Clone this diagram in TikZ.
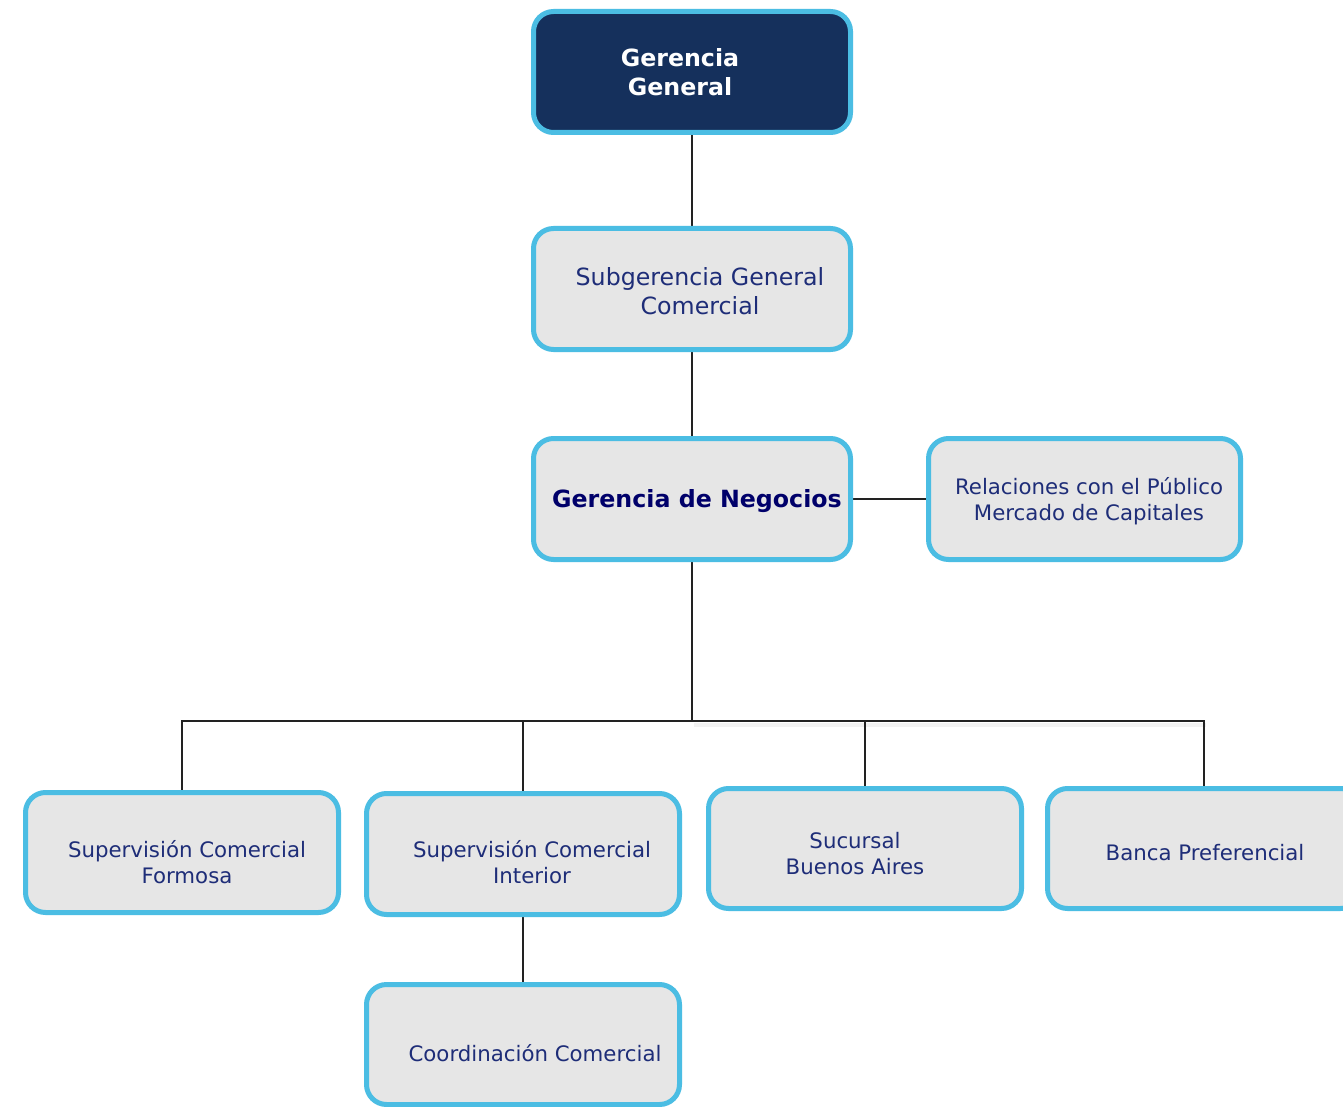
\documentclass[tikz,border=0pt]{standalone}
\usepackage{fontspec}
\setmainfont{DejaVu Sans}
\usetikzlibrary{backgrounds}
\definecolor{navyfill}{HTML}{15305C}
\definecolor{bordcyan}{HTML}{4BBDE3}
\definecolor{boxgray}{HTML}{E6E6E6}
\definecolor{txtblue}{HTML}{1E2D78}
\definecolor{txtbold}{HTML}{00006A}
\definecolor{linecol}{HTML}{222222}
\tikzset{
  orgbox/.style={draw=bordcyan, line width=5pt, rounded corners=20pt, fill=boxgray,
    minimum width=317pt, minimum height=121pt, inner sep=0pt, outer sep=0pt},
  topbox/.style={orgbox, fill=navyfill},
  bigtxt/.style={align=center, text=txtblue, inner sep=0pt,
    font=\fontsize{23.7}{29}\selectfont},
  smalltxt/.style={align=center, text=txtblue, inner sep=0pt,
    font=\fontsize{21.3}{26}\selectfont},
  conn/.style={draw=linecol, line width=2pt}
}
\begin{document}
\begin{tikzpicture}[x=1pt,y=-1pt]
\useasboundingbox (0,0) rectangle (1343,1107);
\clip (0,0) rectangle (1343,1107);

% boxes
\node[topbox] (gg) at (692,72) {};
\node[orgbox] (sgc) at (692,289) {};
\node[orgbox] (gn) at (692,499) {};
\node[orgbox, minimum width=312pt] (rp) at (1084.5,499) {};
\node[orgbox, minimum width=313pt, minimum height=120pt] (scf) at (182,852.5) {};
\node[orgbox, minimum width=313pt] (sci) at (523,854) {};
\node[orgbox, minimum width=313pt, minimum height=120pt] (sba) at (865,848.5) {};
\node[orgbox, minimum width=313pt, minimum height=120pt] (bp) at (1204,848.5) {};
\node[orgbox, minimum width=313pt, minimum height=120pt] (cc) at (523,1044.5) {};

% texts
\node[bigtxt, text=white, font=\fontsize{23.7}{29}\selectfont\bfseries] (tgg) at (680,72) {Gerencia\\General};
\node[bigtxt] (tsgc) at (700,291) {Subgerencia General\\Comercial};
\node[bigtxt, text=txtbold, font=\fontsize{23.7}{29}\selectfont\bfseries] (tgn) at (697,501) {Gerencia de Negocios};
\node[smalltxt] (trp) at (1089,501) {Relaciones con el Público\\Mercado de Capitales};
\node[smalltxt] (tscf) at (187,862) {Supervisión Comercial\\Formosa};
\node[smalltxt] (tsci) at (532,862) {Supervisión Comercial\\Interior};
\node[smalltxt] (tsba) at (855,854) {Sucursal\\Buenos Aires};
\node[smalltxt] (tbp) at (1205,853) {Banca Preferencial};
\node[smalltxt] (tcc) at (535,1053) {Coordinación Comercial};

% connectors
\begin{scope}[on background layer]
\fill[white] (0,0) rectangle (1343,1107);
\coordinate (j) at (692,721);
\draw[black!5, line width=4pt] (694,725) -- (1206,725);
\draw[conn] (gg.south) -- (sgc.north);
\draw[conn] (sgc.south) -- (gn.north);
\draw[conn] (gn.east) -- (rp.west);
\draw[conn] (gn.south) -- (j);
\draw[conn] (j) -| (scf.north);
\draw[conn] (j) -| (sci.north);
\draw[conn] (j) -| (sba.north);
\draw[conn] (j) -| (bp.north);
\draw[conn] (sci.south) -- (cc.north);
\end{scope}
\end{tikzpicture}
\end{document}
